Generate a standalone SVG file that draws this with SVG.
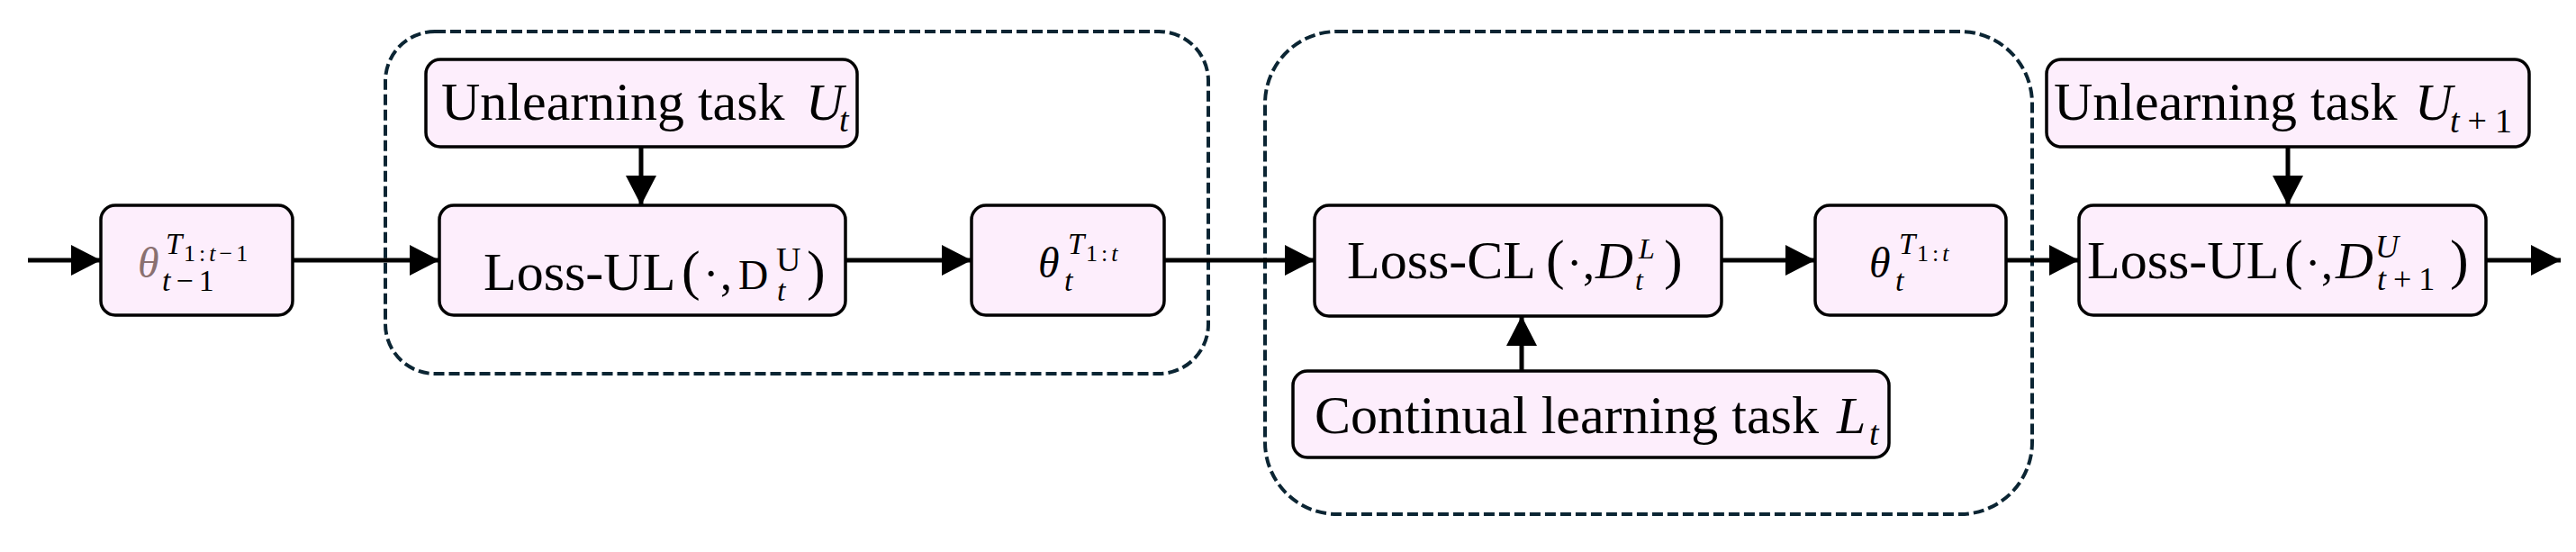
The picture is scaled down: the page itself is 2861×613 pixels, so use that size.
<svg xmlns="http://www.w3.org/2000/svg" width="2861" height="613" viewBox="0 0 2861 613">
<style>
.node{fill:#FDEEFC;stroke:#000;stroke-width:3.5}
.grp{fill:none;stroke:#0b2533;stroke-width:4;stroke-dasharray:12 5}
.conn{stroke:#000;stroke-width:5;fill:none;marker-end:url(#arr)}
text{font-family:"Liberation Serif","Times New Roman",serif;fill:#000}
.t{font-size:60px}
.i{font-style:italic}
.ss{font-size:26px;letter-spacing:4px}
</style>
<defs>
<marker id="arr" markerUnits="userSpaceOnUse" markerWidth="34" markerHeight="34" refX="33" refY="17" orient="auto">
<path d="M0,0 L33,17 L0,34 Z" fill="#000"/>
</marker>
</defs>
<rect width="2861" height="613" fill="#fff"/>
<g id="group-unlearning">
<rect class="grp" x="428" y="35" width="914" height="380" rx="55" ry="55"/>
</g>
<g id="group-continual">
<rect class="grp" x="1405" y="35" width="852" height="536" rx="80" ry="80"/>
</g>
<g id="connectors">
<line class="conn" x1="31" y1="289" x2="112" y2="289"/>
<line class="conn" x1="325" y1="289" x2="488" y2="289"/>
<line class="conn" x1="712" y1="163" x2="712" y2="228"/>
<line class="conn" x1="939" y1="289" x2="1079" y2="289"/>
<line class="conn" x1="1293" y1="289" x2="1460" y2="289"/>
<line class="conn" x1="1690" y1="412" x2="1690" y2="351"/>
<line class="conn" x1="1912" y1="289" x2="2016" y2="289"/>
<line class="conn" x1="2228" y1="289" x2="2309" y2="289"/>
<line class="conn" x1="2541" y1="163" x2="2541" y2="228"/>
<line class="conn" x1="2761" y1="289" x2="2844" y2="289"/>
</g>
<g id="theta-prev">
<rect class="node" x="112" y="228" width="213" height="122" rx="16" ry="16"/>
<text x="153" y="308" font-size="48" class="i" style="fill:#8a7070">θ</text>
<text x="184" y="282" font-size="33" class="i">T</text>
<text x="204" y="290" class="ss">1:<tspan class="i">t</tspan>−1</text>
<text x="180" y="323" font-size="34" letter-spacing="6"><tspan class="i">t</tspan>−1</text>
</g>
<g id="unlearning-task-t">
<rect class="node" x="473" y="66" width="479" height="97" rx="16" ry="16"/>
<text x="490" y="133" class="t">Unlearning task</text>
<text x="895" y="133" font-size="58" class="i">U</text>
<text x="932" y="146" font-size="38" class="i">t</text>
</g>
<g id="loss-ul-t">
<rect class="node" x="488" y="228" width="451" height="122" rx="16" ry="16"/>
<text x="537" y="322" class="t">Loss-UL</text>
<text x="757" y="321" font-size="62">(</text>
<text x="781" y="321" font-size="52">·</text>
<text x="800" y="321" font-size="52">,</text>
<text x="820" y="321" font-size="46">D</text>
<text x="862" y="301" font-size="38">U</text>
<text x="863" y="334" font-size="34" class="i">t</text>
<text x="896" y="321" font-size="62">)</text>
</g>
<g id="theta-t-1">
<rect class="node" x="1079" y="228" width="214" height="122" rx="16" ry="16"/>
<text x="1153" y="308" font-size="48" class="i">θ</text>
<text x="1186" y="282" font-size="33" class="i">T</text>
<text x="1206" y="290" class="ss">1:<tspan class="i">t</tspan></text>
<text x="1182" y="323" font-size="34" class="i">t</text>
</g>
<g id="loss-cl">
<rect class="node" x="1460" y="228" width="452" height="123" rx="16" ry="16"/>
<text x="1496" y="309" class="t">Loss-CL</text>
<text x="1717" y="309" font-size="62">(</text>
<text x="1740" y="309" font-size="52">·</text>
<text x="1758" y="309" font-size="52">,</text>
<text x="1772" y="309" font-size="58" class="i">D</text>
<text x="1820" y="287" font-size="32" class="i">L</text>
<text x="1816" y="322" font-size="32" class="i">t</text>
<text x="1848" y="309" font-size="62">)</text>
</g>
<g id="continual-task">
<rect class="node" x="1436" y="412" width="662" height="96" rx="16" ry="16"/>
<text x="1460" y="481" class="t">Continual learning task</text>
<text x="2040" y="481" font-size="58" class="i">L</text>
<text x="2076" y="494" font-size="38" class="i">t</text>
</g>
<g id="theta-t-2">
<rect class="node" x="2016" y="228" width="212" height="122" rx="16" ry="16"/>
<text x="2076" y="308" font-size="48" class="i">θ</text>
<text x="2109" y="282" font-size="33" class="i">T</text>
<text x="2129" y="290" class="ss">1:<tspan class="i">t</tspan></text>
<text x="2105" y="323" font-size="34" class="i">t</text>
</g>
<g id="unlearning-task-t1">
<rect class="node" x="2273" y="66" width="536" height="97" rx="16" ry="16"/>
<text x="2281" y="133" class="t">Unlearning task</text>
<text x="2682" y="133" font-size="58" class="i">U</text>
<text x="2721" y="147" font-size="38"><tspan class="i">t</tspan><tspan dx="9">+</tspan><tspan dx="9">1</tspan></text>
</g>
<g id="loss-ul-t1">
<rect class="node" x="2309" y="228" width="452" height="122" rx="16" ry="16"/>
<text x="2318" y="309" class="t">Loss-UL</text>
<text x="2537" y="309" font-size="62">(</text>
<text x="2560" y="309" font-size="52">·</text>
<text x="2578" y="309" font-size="52">,</text>
<text x="2594" y="309" font-size="58" class="i">D</text>
<text x="2638" y="286" font-size="36" class="i">U</text>
<text x="2640" y="322" font-size="36"><tspan class="i">t</tspan><tspan dx="8">+</tspan><tspan dx="8">1</tspan></text>
<text x="2721" y="309" font-size="62">)</text>
</g>
</svg>
